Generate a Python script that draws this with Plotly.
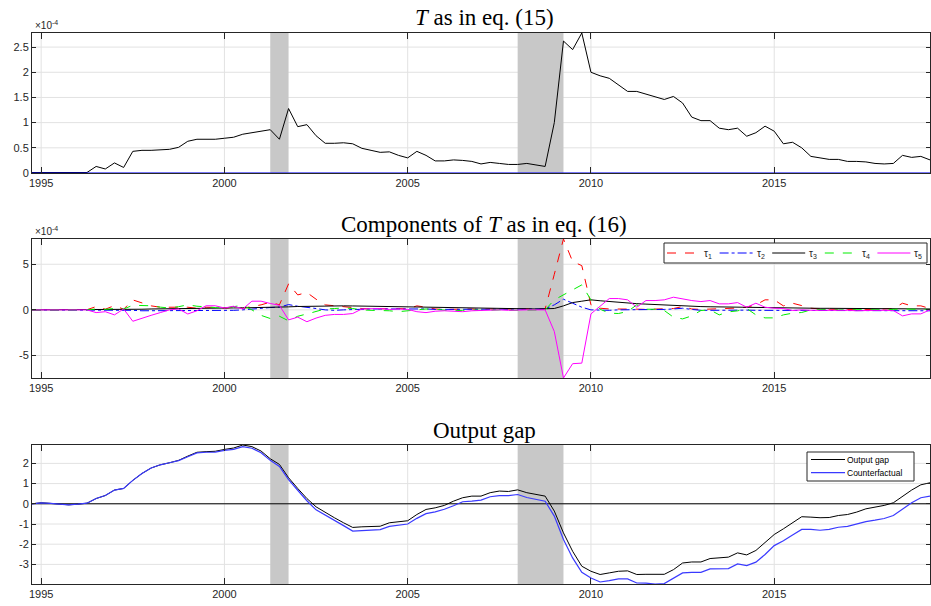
import plotly.graph_objects as go

# ---------------- data (quarterly, 1994Q4 .. 2019Q2) ----------------
t0 = 1994.75
n = 99
years = [t0 + 0.25 * i for i in range(n)]

# T as in eq. (15), units of 1e-4
T_eq15 = [0.01, 0.01, 0.005, 0.005, 0.003, 0.005, 0.01, 0.13, 0.08, 0.20,
          0.11, 0.43, 0.45, 0.45, 0.46, 0.47, 0.51, 0.63, 0.67, 0.67,
          0.67, 0.69, 0.71, 0.77, 0.80, 0.82, 0.86, 0.67, 1.28, 0.92,
          0.96, 0.74, 0.59, 0.59, 0.60, 0.58, 0.49, 0.45, 0.41, 0.42,
          0.35, 0.30, 0.43, 0.35, 0.24, 0.24, 0.26, 0.25, 0.23, 0.18,
          0.21, 0.19, 0.17, 0.17, 0.19, 0.16, 0.13, 1.00, 2.62, 2.45,
          2.78, 2.00, 1.93, 1.88, 1.75, 1.62, 1.62, 1.57, 1.51, 1.46,
          1.52, 1.39, 1.11, 1.04, 1.04, 0.89, 0.86, 0.89, 0.73, 0.80,
          0.93, 0.83, 0.58, 0.61, 0.50, 0.33, 0.30, 0.27, 0.27, 0.23,
          0.23, 0.22, 0.19, 0.18, 0.19, 0.35, 0.31, 0.33, 0.26]
T_base = [0.0] * n  # blue reference series at zero

# Components of T as in eq. (16), units of 1e-4
tau1 = [0, 0, 0, 0, 0, 0, 0.02, 0.36, 0.07, 0.47,
        0.07, 1.09, 0.80, 0.44, 0.29, 0.29, 0.36, 0.29, 0.18, 0.29,
        0.26, 0.18, 0.29, 0.18, 0.36, 0.55, 0.84, 0.55, 2.85, 1.64,
        1.90, 1.17, 0.55, 0.44, 0.36, 0.22, 0.15, 0.10, 0.12, 0.10,
        0.15, 0.10, 0.44, 0.29, 0.10, 0.05, 0.10, 0.08, 0.10, 0.05,
        0.10, 0.08, 0.05, 0.08, 0.10, 0.08, 0.10, 3.90, 7.77, 5.30,
        4.85, 0.55, 0.18, 0.10, 0.10, 0.15, 0.08, 0.05, 0.10, 0.12,
        0.15, 0.36, 0.10, 0.05, 0.08, 0.10, 0.10, 0.20, 0.30, 0.55,
        1.10, 1.10, 0.44, 0.73, 0.47, 0.18, 0.10, 0.05, 0.05, 0.05,
        0.08, 0.05, 0.05, 0.10, 0.15, 0.73, 0.44, 0.44, 0.15]
tau2 = [0, 0, 0, 0, 0, 0, 0, 0, 0, 0,
        0, -0.05, -0.10, -0.10, -0.10, -0.05, -0.05, -0.10, -0.10, -0.05,
        -0.05, -0.05, -0.05, 0.0, 0.10, 0.15, 0.25, 0.30, 0.58, 0.40,
        0.30, 0.15, 0.0, -0.05, 0.0, 0.05, 0.10, 0.10, 0.10, 0.10,
        0.15, 0.10, 0.15, 0.10, 0.05, 0.05, 0.05, 0.05, 0.05, 0.05,
        0.05, 0.05, 0.05, 0.05, 0.05, 0.05, 0.10, 0.55, 1.17, 0.73,
        0.29, 0.0, -0.05, -0.05, 0.0, 0.0, -0.03, -0.03, 0.0, 0.05,
        0.10, 0.18, 0.05, -0.05, -0.05, -0.03, 0.0, 0.0, -0.03, -0.05,
        -0.05, -0.05, -0.05, -0.05, -0.05, -0.05, -0.05, -0.05, -0.05, -0.05,
        -0.07, -0.07, -0.07, -0.07, -0.08, -0.08, -0.10, -0.10, -0.10]
tau3 = [0, 0, 0, 0, 0, 0, 0, 0, 0, 0,
        0.02, 0.05, 0.07, 0.10, 0.12, 0.14, 0.15, 0.16, 0.17, 0.18,
        0.19, 0.20, 0.21, 0.22, 0.23, 0.25, 0.28, 0.30, 0.33, 0.37,
        0.40, 0.43, 0.45, 0.45, 0.44, 0.43, 0.41, 0.39, 0.37, 0.35,
        0.33, 0.31, 0.30, 0.28, 0.26, 0.24, 0.22, 0.20, 0.18, 0.17,
        0.15, 0.14, 0.13, 0.12, 0.11, 0.10, 0.12, 0.15, 0.44, 0.80,
        0.95, 1.10, 1.00, 0.90, 0.80, 0.73, 0.68, 0.63, 0.58, 0.50,
        0.47, 0.44, 0.40, 0.36, 0.34, 0.32, 0.30, 0.29, 0.28, 0.27,
        0.26, 0.25, 0.24, 0.22, 0.20, 0.18, 0.17, 0.17, 0.16, 0.15,
        0.14, 0.14, 0.13, 0.12, 0.12, 0.11, 0.11, 0.10, 0.10]
tau4 = [0, 0, 0, 0, 0, 0, 0, 0.10, 0.05, 0.15,
        0.10, 0.50, 0.50, 0.45, 0.30, 0.20, 0.35, 0.55, 0.40, 0.30,
        0.25, 0.20, 0.35, 0.50, 0.0, -0.60, -0.95, -0.70, -1.20, -0.70,
        -0.45, -0.15, 0.10, 0.15, 0.20, 0.15, 0.0, -0.05, -0.05, -0.10,
        -0.20, -0.10, 0.0, 0.10, 0.05, -0.05, -0.10, -0.05, 0.0, -0.05,
        0.0, 0.0, -0.05, -0.05, 0.0, 0.0, 0.0, 1.10, 1.64, 2.20,
        2.74, 1.10, 0.07, -0.36, -0.40, -0.18, 0.55, 0.07, 0.07, -0.07,
        -0.80, -0.99, -0.66, -0.07, 0.0, -0.55, -0.22, -0.11, 0.15, -0.55,
        -0.88, -0.88, -0.55, -0.36, -0.29, 0.0, 0.05, 0.05, 0.0, 0.0,
        0.05, 0.05, 0.0, 0.0, 0.05, 0.10, 0.05, 0.05, 0.05]
tau5 = [0, 0, 0, 0, 0, 0, 0, -0.30, -0.20, -0.55,
        0.10, -1.25, -0.90, -0.60, -0.30, 0.0, 0.10, -0.45, -0.10, 0.45,
        0.45, 0.20, 0.40, 0.10, 0.95, 0.95, 0.70, 0.50, -1.10, -0.80,
        -1.30, -0.90, -0.60, -0.50, -0.50, -0.40, 0.10, 0.10, 0.15, 0.05,
        0.10, 0.05, -0.20, -0.30, -0.15, -0.10, -0.15, -0.20, -0.10, -0.05,
        0.0, 0.0, -0.05, 0.0, 0.0, 0.0, 0.0, -2.37, -7.47, -5.90,
        -5.84, -0.44, 0.36, 1.24, 1.24, 1.10, 0.29, 1.02, 1.02, 1.10,
        1.39, 1.17, 1.02, 0.91, 1.02, 0.66, 0.66, 0.80, 0.29, 0.73,
        0.29, 0.18, 0.15, -0.07, 0.0, -0.05, -0.05, 0.0, -0.05, -0.05,
        -0.10, -0.05, -0.05, -0.05, -0.07, -0.66, -0.44, -0.44, 0.0]

# Output gap and counterfactual
gap = [0.00, 0.05, 0.02, -0.03, -0.05, -0.02, 0.03, 0.26, 0.41, 0.68,
       0.76, 1.16, 1.50, 1.77, 1.93, 2.03, 2.15, 2.36, 2.55, 2.58,
       2.60, 2.69, 2.76, 2.91, 2.83, 2.61, 2.23, 1.95, 1.29, 0.76,
       0.26, -0.15, -0.43, -0.69, -0.94, -1.17, -1.14, -1.11, -1.11, -0.94,
       -0.88, -0.84, -0.53, -0.28, -0.20, -0.08, 0.13, 0.30, 0.38, 0.38,
       0.55, 0.63, 0.61, 0.69, 0.55, 0.45, 0.38, -0.36, -1.44, -2.35,
       -3.09, -3.34, -3.50, -3.42, -3.34, -3.32, -3.50, -3.49, -3.50, -3.49,
       -3.26, -2.93, -2.88, -2.88, -2.71, -2.69, -2.64, -2.43, -2.53, -2.31,
       -1.93, -1.52, -1.24, -0.94, -0.64, -0.66, -0.69, -0.68, -0.58, -0.53,
       -0.41, -0.25, -0.17, -0.08, 0.05, 0.38, 0.68, 0.94, 1.04]
counterfactual = [0.00, 0.05, 0.02, -0.03, -0.05, -0.02, 0.03, 0.26, 0.41, 0.68,
                  0.76, 1.16, 1.50, 1.77, 1.93, 2.03, 2.14, 2.33, 2.52, 2.55,
                  2.56, 2.64, 2.69, 2.83, 2.75, 2.53, 2.15, 1.85, 1.20, 0.67,
                  0.15, -0.30, -0.55, -0.82, -1.08, -1.35, -1.32, -1.29, -1.28, -1.12,
                  -1.05, -1.00, -0.72, -0.49, -0.40, -0.27, -0.10, 0.10, 0.13, 0.18,
                  0.35, 0.40, 0.40, 0.46, 0.31, 0.21, 0.13, -0.61, -1.77, -2.68,
                  -3.39, -3.67, -3.87, -3.80, -3.72, -3.72, -3.92, -3.93, -3.97, -3.95,
                  -3.67, -3.42, -3.39, -3.39, -3.22, -3.22, -3.21, -2.98, -3.06, -2.89,
                  -2.51, -2.07, -1.83, -1.54, -1.27, -1.27, -1.31, -1.27, -1.16, -1.12,
                  -1.01, -0.88, -0.81, -0.73, -0.58, -0.25, 0.05, 0.30, 0.38]

# recessions (shaded)
rec_start = [2001.25, 2008.0]
rec_end = [2001.75, 2009.25]

xticks = [1995, 2000, 2005, 2010, 2015]
yticks_top = [0, 0.5, 1, 1.5, 2, 2.5]
yticks_mid = [-5, 0, 5]
yticks_bot = [-3, -2, -1, 0, 1, 2]
titles = ["<i>T</i> as in eq. (15)",
          "Components of <i>T</i> as in eq. (16)",
          "Output gap"]

for arr in (T_eq15, tau1, tau2, tau3, tau4, tau5, gap, counterfactual):
    assert len(arr) == n, len(arr)

# ---------------- figure ----------------
W, H = 931, 606
ml, mr, mt, mb = 32, 1, 33, 22
ph = H - mt - mb
pw = W - ml - mr
def py(px):  # pixel y -> paper y
    return (H - mb - px) / ph
def pxx(px):  # pixel x -> paper x
    return (px - ml) / pw

doms = [(py(173), py(33)), (py(378), py(239)), (py(584), py(445))]

fig = go.Figure()
FONT = "Arial, Liberation Sans, sans-serif"
AX = "#262626"
GRID = "#e2e2e2"

# top
fig.add_trace(go.Scatter(x=years, y=T_eq15, mode="lines", line=dict(color="black", width=1),
                         xaxis="x", yaxis="y", showlegend=False))
fig.add_trace(go.Scatter(x=years, y=T_base, mode="lines", line=dict(color="#0000ff", width=1.2),
                         xaxis="x", yaxis="y", showlegend=False))
# middle
comp_styles = [("τ<sub>1</sub>", tau1, "#ff0000", "dash"),
               ("τ<sub>2</sub>", tau2, "#0000ff", "dashdot"),
               ("τ<sub>3</sub>", tau3, "#000000", "solid"),
               ("τ<sub>4</sub>", tau4, "#00ee00", "dash"),
               ("τ<sub>5</sub>", tau5, "#ff00ff", "solid")]
for name, arr, col, dash in comp_styles:
    fig.add_trace(go.Scatter(x=years, y=arr, mode="lines", name=name,
                             line=dict(color=col, width=1, dash=dash),
                             xaxis="x2", yaxis="y2", showlegend=False))
# bottom
gap_styles = [("Output gap", gap, "#000000", 1.0),
              ("Counterfactual", counterfactual, "#3a3aff", 1.2)]
for name, arr, col, wd in gap_styles:
    fig.add_trace(go.Scatter(x=years, y=arr, mode="lines", name=name,
                             line=dict(color=col, width=wd), xaxis="x3", yaxis="y3",
                             showlegend=False))

shapes = []
annotations = []
ytick_sets = [yticks_top, yticks_mid, yticks_bot]
for k, ax in enumerate(["", "2", "3"]):
    # grid lines (drawn as shapes so that the shading can cover them)
    for xv in xticks:
        shapes.append(dict(type="line", xref="x" + ax, yref="y" + ax + " domain",
                           x0=xv, x1=xv, y0=0, y1=1, line=dict(color=GRID, width=1), layer="below"))
    for yv in ytick_sets[k]:
        shapes.append(dict(type="line", xref="x" + ax + " domain", yref="y" + ax,
                           x0=0, x1=1, y0=yv, y1=yv, line=dict(color=GRID, width=1), layer="below"))
    for a, b in zip(rec_start, rec_end):
        shapes.append(dict(type="rect", xref="x" + ax, yref="y" + ax + " domain",
                           x0=a, x1=b, y0=0, y1=1, fillcolor="#c8c8c8",
                           line=dict(width=0), layer="below"))
shapes.append(dict(type="line", xref="x3 domain", yref="y3", x0=0, x1=1, y0=0, y1=0,
                   line=dict(color="black", width=1), layer="below"))

# ---- legend boxes (MATLAB-style, compact) ----
# middle: horizontal legend
shapes.append(dict(type="rect", xref="paper", yref="paper", x0=pxx(664), x1=pxx(927),
                   y0=py(263), y1=py(243), fillcolor="white", line=dict(color=AX, width=1),
                   layer="above"))
for k, (name, _, col, dash) in enumerate(comp_styles):
    x0 = 667 + 52.6 * k
    shapes.append(dict(type="line", xref="paper", yref="paper", x0=pxx(x0), x1=pxx(x0 + 33),
                       y0=py(253), y1=py(253), line=dict(color=col, width=1, dash=dash),
                       layer="above"))
    annotations.append(dict(text=name, xref="paper", yref="paper", x=pxx(x0 + 35), y=py(254),
                            xanchor="left", yanchor="middle", showarrow=False,
                            font=dict(family=FONT, size=10, color=AX)))
# bottom: vertical legend
shapes.append(dict(type="rect", xref="paper", yref="paper", x0=pxx(807), x1=pxx(914),
                   y0=py(481), y1=py(452), fillcolor="white", line=dict(color=AX, width=1),
                   layer="above"))
for k, (name, _, col, wd) in enumerate(gap_styles):
    yy = 459.5 + 13.2 * k
    shapes.append(dict(type="line", xref="paper", yref="paper", x0=pxx(811), x1=pxx(845),
                       y0=py(yy), y1=py(yy), line=dict(color=col, width=wd), layer="above"))
    annotations.append(dict(text=name, xref="paper", yref="paper", x=pxx(845), y=py(yy),
                            xanchor="left", yanchor="middle", showarrow=False,
                            font=dict(family=FONT, size=8.5, color="black")))

def xaxis(anchor):
    return dict(domain=[0, 1], anchor=anchor, range=[years[0], years[-1]],
                tickvals=xticks, ticktext=[str(v) for v in xticks],
                ticks="inside", ticklen=6, tickcolor=AX, showline=True, linecolor=AX,
                linewidth=1, mirror="ticks", showgrid=False,
                zeroline=False, tickfont=dict(family=FONT, size=11, color=AX))

def yaxis(dom, xa, rng, vals):
    return dict(domain=list(dom), anchor=xa, range=rng, tickvals=vals,
                ticktext=[("%g" % v) for v in vals],
                ticks="inside", ticklen=4, tickcolor=AX, showline=True, linecolor=AX,
                linewidth=1, mirror="ticks", showgrid=False,
                zeroline=False, tickfont=dict(family=FONT, size=11, color=AX))

mid_lo = min(min(a) for a in (tau1, tau2, tau3, tau4, tau5))
mid_hi = max(max(a) for a in (tau1, tau2, tau3, tau4, tau5))
bot_lo = min(min(gap), min(counterfactual))
bot_hi = max(max(gap), max(counterfactual))

title_y = [17, 224, 430]
for txt, yy in zip(titles, title_y):
    annotations.append(dict(text=txt, xref="paper", yref="paper", x=pxx(484), y=py(yy),
                            xanchor="center", yanchor="middle", showarrow=False,
                            font=dict(family="Liberation Serif, DejaVu Serif, serif", size=23, color="black")))
for top in (33, 239):
    annotations.append(dict(text="×10<sup>-4</sup>", xref="paper", yref="paper", x=pxx(33), y=py(top),
                            xanchor="left", yanchor="bottom", showarrow=False,
                            font=dict(family=FONT, size=10, color=AX)))

fig.update_layout(
    width=W, height=H, margin=dict(l=ml, r=mr, t=mt, b=mb, autoexpand=False),
    paper_bgcolor="white", plot_bgcolor="white",
    xaxis=xaxis("y"), xaxis2=xaxis("y2"), xaxis3=xaxis("y3"),
    yaxis=yaxis(doms[0], "x", [0, max(T_eq15)], yticks_top),
    yaxis2=yaxis(doms[1], "x2", [mid_lo, mid_hi], yticks_mid),
    yaxis3=yaxis(doms[2], "x3", [bot_lo, bot_hi], yticks_bot),
    shapes=shapes, annotations=annotations,
    showlegend=False,
)

fig.write_html("out.html", config={"displayModeBar": False},
               post_script="document.body.style.margin='0';")
